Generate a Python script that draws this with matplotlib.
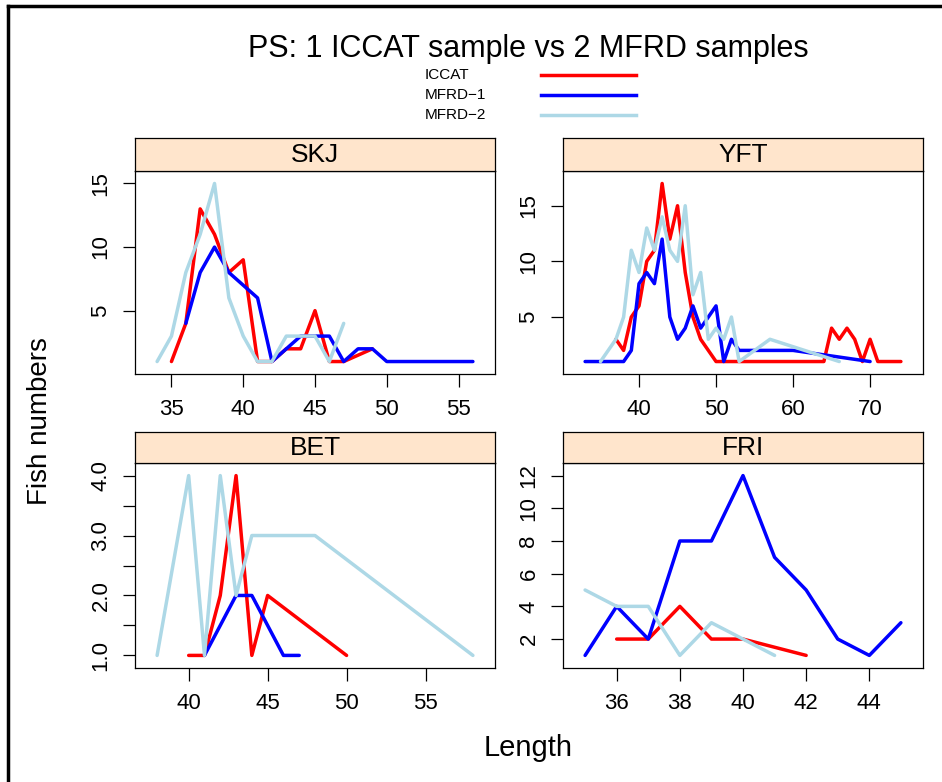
import matplotlib
matplotlib.use("Agg")
import matplotlib.pyplot as plt
from matplotlib.lines import Line2D

plt.rcParams['font.family'] = ['Liberation Sans', 'DejaVu Sans']

# SKJ
skj_iccat_len = [35, 36, 37, 38, 39, 40, 41, 42, 43, 44, 45, 46, 47, 49]
skj_iccat_n = [1, 4, 13, 11, 8, 9, 1, 1, 2, 2, 5, 1, 1, 2]
skj_m1_len = [36, 37, 38, 39, 40, 41, 42, 43, 44, 45, 46, 47, 48, 49, 50, 53, 56]
skj_m1_n = [4, 8, 10, 8, 7, 6, 1, 2, 3, 3, 3, 1, 2, 2, 1, 1, 1]
skj_m2_len = [34, 35, 36, 37, 38, 39, 40, 41, 42, 43, 44, 45, 46, 47]
skj_m2_n = [1, 3, 8, 11, 15, 6, 3, 1, 1, 3, 3, 3, 1, 4]

# YFT
yft_iccat_len = [37, 38, 39, 40, 41, 42, 43, 44, 45, 46, 47, 48, 49, 50,
                 64, 65, 66, 67, 68, 69, 70, 71, 74]
yft_iccat_n = [3, 2, 5, 6, 10, 11, 17, 12, 15, 9, 5, 3, 2, 1,
               1, 4, 3, 4, 3, 1, 3, 1, 1]
yft_m1_len = [33, 38, 39, 40, 41, 42, 43, 44, 45, 46, 47, 48, 49, 50, 51, 52, 53, 60, 70]
yft_m1_n = [1, 1, 2, 8, 9, 8, 12, 5, 3, 4, 6, 4, 5, 6, 1, 3, 2, 2, 1]
yft_m2_len = [35, 36, 37, 38, 39, 40, 41, 42, 43, 44, 45, 46, 47, 48, 49, 50, 51, 52, 53, 57, 66]
yft_m2_n = [1, 2, 3, 5, 11, 9, 13, 11, 14, 11, 10, 15, 7, 9, 3, 4, 3, 5, 1, 3, 1]

# BET
bet_iccat_len = [40, 41, 42, 43, 44, 45, 50]
bet_iccat_n = [1, 1, 2, 4, 1, 2, 1]
bet_m1_len = [41, 43, 44, 46, 47]
bet_m1_n = [1, 2, 2, 1, 1]
bet_m2_len = [38, 40, 41, 42, 43, 44, 48, 58]
bet_m2_n = [1, 4, 1, 4, 2, 3, 3, 1]

# FRI
fri_iccat_len = [36, 37, 38, 39, 40, 42]
fri_iccat_n = [2, 2, 4, 2, 2, 1]
fri_m1_len = [35, 36, 37, 38, 39, 40, 41, 42, 43, 44, 45]
fri_m1_n = [1, 4, 2, 8, 8, 12, 7, 5, 2, 1, 3]
fri_m2_len = [35, 36, 37, 38, 39, 40, 41]
fri_m2_n = [5, 4, 4, 1, 3, 2, 1]

series_names = ['ICCAT', 'MFRD\u22121', 'MFRD\u22122']
series_colors = ['#ff0000', '#0000ff', '#add8e6']

panels = [
    ('SKJ', [(skj_iccat_len, skj_iccat_n), (skj_m1_len, skj_m1_n), (skj_m2_len, skj_m2_n)],
     [35, 40, 45, 50, 55], [5, 10, 15], ['5', '10', '15']),
    ('YFT', [(yft_iccat_len, yft_iccat_n), (yft_m1_len, yft_m1_n), (yft_m2_len, yft_m2_n)],
     [40, 50, 60, 70], [5, 10, 15], ['5', '10', '15']),
    ('BET', [(bet_iccat_len, bet_iccat_n), (bet_m1_len, bet_m1_n), (bet_m2_len, bet_m2_n)],
     [40, 45, 50, 55], [1, 1.5, 2, 2.5, 3, 3.5, 4], ['1.0', '', '2.0', '', '3.0', '', '4.0']),
    ('FRI', [(fri_iccat_len, fri_iccat_n), (fri_m1_len, fri_m1_n), (fri_m2_len, fri_m2_n)],
     [36, 38, 40, 42, 44], [2, 4, 6, 8, 10, 12], ['2', '4', '6', '8', '10', '12']),
]

W, H = 942, 782
fig = plt.figure(figsize=(W / 100, H / 100), dpi=100)

# panel boxes in pixels: left, right, strip top, strip bottom, panel bottom
boxes = [
    (135, 495, 138, 171, 374),
    (563, 923, 138, 171, 374),
    (135, 495, 432, 463, 668),
    (563, 923, 432, 463, 668),
]

for (name, groups, xt, yt, ytl), (l, r, st, sb, pb) in zip(panels, boxes):
    ax = fig.add_axes([l / W, 1 - pb / H, (r - l) / W, (pb - sb) / H])
    for (x, y), c in zip(groups, series_colors):
        ax.plot(x, y, color=c, lw=2.5, solid_capstyle='round', solid_joinstyle='round')
    allx = [v for g in groups for v in g[0]]
    ally = [v for g in groups for v in g[1]]
    px = (max(allx) - min(allx)) * 0.07
    py = (max(ally) - min(ally)) * 0.07
    ax.set_xlim(min(allx) - px, max(allx) + px)
    ax.set_ylim(min(ally) - py, max(ally) + py)
    ax.set_xticks(xt)
    ax.set_yticks(yt)
    ax.set_yticklabels(ytl, rotation=90, va='center')
    ax.tick_params(direction='out', length=9, width=0.9, labelsize=16)
    ax.tick_params(axis='x', pad=9)
    ax.tick_params(axis='y', pad=8)
    for s in ax.spines.values():
        s.set_linewidth(0.9)

    sax = fig.add_axes([l / W, 1 - sb / H, (r - l) / W, (sb - st) / H])
    sax.set_facecolor('#ffe5cc')
    sax.set_xticks([])
    sax.set_yticks([])
    for s in sax.spines.values():
        s.set_linewidth(0.9)
    sax.text(0.5, 0.47, name, ha='center', va='center', fontsize=19, transform=sax.transAxes)

fig.text(528 / W, 1 - 49 / H, 'PS: 1 ICCAT sample vs 2 MFRD samples',
         ha='center', va='center', fontsize=22)

# legend rows
for i, (lab, c) in enumerate(zip(series_names, series_colors)):
    yy = 1 - (75 + 20 * i) / H
    fig.text(425 / W, yy, lab, ha='left', va='center', fontsize=11)
    fig.add_artist(Line2D([541 / W, 636 / W], [yy, yy], color=c, lw=2.5,
                          transform=fig.transFigure))

fig.text(40 / W, 1 - 421 / H, 'Fish numbers', rotation=90, ha='center', va='center', fontsize=20)
fig.text(528 / W, 1 - 748 / H, 'Length', ha='center', va='center', fontsize=21)

# outer frame (top and left edges)
fig.add_artist(Line2D([8 / W, 1], [1 - 6 / H, 1 - 6 / H], color='black', lw=2.5,
                      transform=fig.transFigure))
fig.add_artist(Line2D([8 / W, 8 / W], [0, 1 - 6 / H], color='black', lw=2.5,
                      transform=fig.transFigure))

fig.savefig('out.png', dpi=100)
